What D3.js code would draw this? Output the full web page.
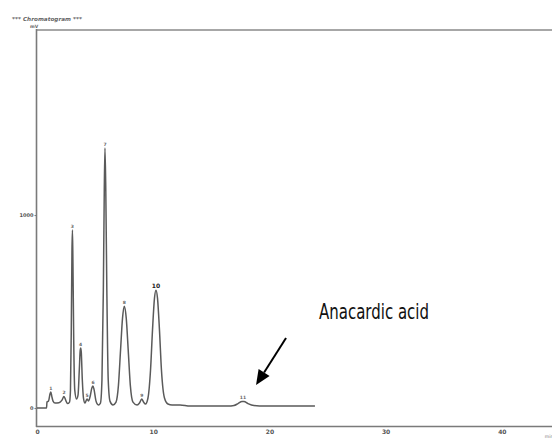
<!DOCTYPE html>
<html><head><meta charset="utf-8">
<script src="https://cdn.jsdelivr.net/npm/d3@7"></script>
<style>html,body{margin:0;padding:0;background:#fff;}svg{display:block;}</style>
</head><body>
<script>
// Trace: retention time (min) and signal (mV)
const traceTime = [0,0.82,0.86,0.99,1.12,1.19,1.27,1.38,1.55,1.89,2.15,2.32,2.50,2.62,2.80,2.88,2.95,3.01,3.05,3.09,3.16,3.25,3.40,3.53,3.64,3.72,3.76,3.81,3.90,4.00,4.13,4.30,4.43,4.56,4.72,4.82,4.92,5.08,5.28,5.46,5.59,5.71,5.79,5.85,5.92,6.01,6.13,6.28,6.54,6.80,7.01,7.19,7.36,7.51,7.68,7.85,8.03,8.26,8.61,8.82,9.01,9.17,9.34,9.55,9.77,9.94,10.11,10.24,10.37,10.54,10.71,10.97,11.27,11.62,12.31,13.17,14.03,15.32,16.44,16.95,17.30,17.64,17.81,18.16,18.67,19.62,20.91,22.63,23.92];
const traceSignal = [0,0,31,36,73,83,62,36,26,28,41,60,36,23,31,93,404,819,922,767,352,93,47,67,197,300,311,290,145,52,26,47,36,57,104,114,93,36,16,26,145,611,1129,1347,1129,611,145,36,16,31,119,300,466,528,466,300,119,31,16,26,47,31,21,52,197,404,570,611,570,404,197,52,21,16,16,10,10,10,10,13,23,34,34,23,13,10,10,10,10];
// Peak labels
const peakNames = ["1","2","3","4","5","6","7","8","9","10","11"];
const peakTimes = [1.19,2.32,3.05,3.76,4.30,4.82,5.85,7.51,9.01,10.24,17.72];
const peakSignal = [83,60,922,311,47,114,1347,528,47,611,34];
// Axis ticks
const xTicks = [0,10,20,30,40];
const yTicks = [0,1000];
// Annotation (data units)
const noteText = "Anacardic acid";
const noteAt = [24.27, 461];
const arrowFrom = [21.43, 363];
const arrowTo = [18.85, 119];

const W = 552, H = 440;
const svg = d3.select("body").append("svg").attr("width", W).attr("height", H);
const x = d3.scaleLinear().domain([0, 44.32]).range([37, 552]);
const y = d3.scaleLinear().domain([-93, 1959]).range([426, 30]);

// frame
svg.append("line").attr("x1",36.5).attr("x2",552).attr("y1",30).attr("y2",30)
  .attr("stroke","#8a8a8a").attr("stroke-width",1.6);
svg.append("line").attr("x1",36.5).attr("x2",36.5).attr("y1",29).attr("y2",427)
  .attr("stroke","#7a7a7a").attr("stroke-width",1.6);
svg.append("line").attr("x1",36).attr("x2",552).attr("y1",426.5).attr("y2",426.5)
  .attr("stroke","#7a7a7a").attr("stroke-width",1.6);

// x axis labels
const xa = d3.axisBottom(x).tickValues(xTicks).tickFormat(d3.format("d")).tickSize(0).tickPadding(4);
const gx = svg.append("g").attr("transform","translate(0,426)").call(xa);
gx.select(".domain").remove();
gx.selectAll("text").attr("font-family","DejaVu Sans").attr("font-size",6).attr("font-weight","bold").attr("fill","#555");
svg.append("text").attr("x",549).attr("y",438).attr("font-family","DejaVu Sans").attr("font-size",4.5).attr("fill","#777").attr("text-anchor","middle").text("min");

// y axis labels
const ya = d3.axisLeft(y).tickValues(yTicks).tickFormat(d3.format("d")).tickSize(2).tickPadding(1);
const gy = svg.append("g").attr("transform","translate(36.5,0)").call(ya);
gy.select(".domain").remove();
gy.selectAll("line").attr("stroke","#777");
gy.selectAll("text").attr("font-family","DejaVu Sans").attr("font-size",5).attr("font-weight","bold").attr("fill","#555");

// title
svg.append("text").attr("x",12).attr("y",21).attr("font-family","DejaVu Sans").attr("font-size",5.5)
  .attr("font-style","italic").attr("font-weight","bold").attr("fill","#666")
  .attr("textLength",70).attr("lengthAdjust","spacingAndGlyphs").text("*** Chromatogram ***");
svg.append("text").attr("x",30).attr("y",28).attr("font-family","DejaVu Sans").attr("font-size",4.5)
  .attr("font-weight","bold").attr("fill","#666").text("mV");

// trace
const pts = traceTime.map((t,i)=>[t, traceSignal[i]]);
const line = d3.line().x(d=>x(d[0])).y(d=>y(d[1])).curve(d3.curveMonotoneX);
svg.append("path").datum(pts).attr("d", line).attr("fill","none")
  .attr("stroke","#5a5a5a").attr("stroke-width",1.5).attr("stroke-linejoin","round");

// peak labels
peakNames.forEach((n,i)=>{
  svg.append("text").attr("x",x(peakTimes[i])).attr("y",y(peakSignal[i])-2)
    .attr("text-anchor","middle").attr("font-family","DejaVu Sans").attr("font-size", n==="10"?6:4.5)
    .attr("font-weight","bold").attr("fill", n==="10"?"#222":"#666").text(n);
});

// annotation
svg.append("text").attr("x",x(noteAt[0])).attr("y",y(noteAt[1]))
  .attr("font-family","'Liberation Sans Narrow','DejaVu Sans Condensed',sans-serif").attr("font-size",22)
  .attr("fill","#111").attr("textLength",110).attr("lengthAdjust","spacingAndGlyphs").text(noteText);

const x1=x(arrowFrom[0]), y1=y(arrowFrom[1]), x2=x(arrowTo[0]), y2=y(arrowTo[1]);
const ang = Math.atan2(y2-y1, x2-x1), L=15, HW=6.5;
const bx = x2 - L*Math.cos(ang), by = y2 - L*Math.sin(ang);
svg.append("line").attr("x1",x1).attr("y1",y1).attr("x2",bx).attr("y2",by)
  .attr("stroke","#000").attr("stroke-width",2);
svg.append("path").attr("d", d3.line()([[x2,y2],[bx+HW*Math.sin(ang), by-HW*Math.cos(ang)],[bx-HW*Math.sin(ang), by+HW*Math.cos(ang)]])+"Z")
  .attr("fill","#000");
</script>
</body></html>
